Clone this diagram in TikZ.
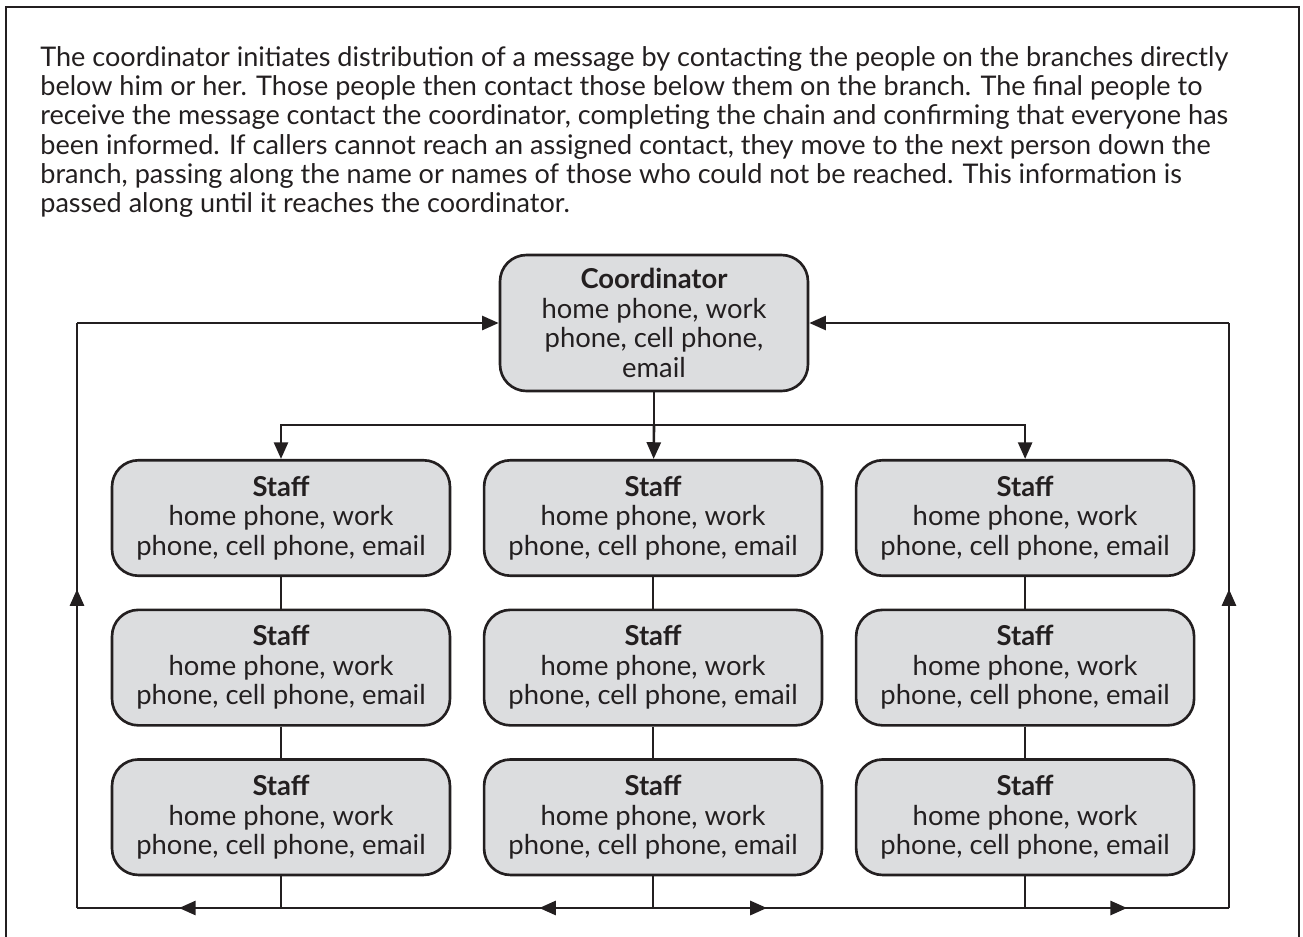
\documentclass[tikz,border=0pt]{standalone}
\usepackage{fontspec}
\setmainfont{Lato}
\usetikzlibrary{arrows.meta, positioning, decorations.markings}

\definecolor{boxgray}{HTML}{DCDDDF}
\definecolor{inkblack}{HTML}{231F20}

\tikzset{
    person/.style={draw=inkblack, line width=1.5pt, fill=boxgray, rounded corners=15pt,
          minimum width=6.76cm, minimum height=2.31cm, inner sep=0pt, align=center,
          text=inkblack, font=\fontsize{15.6}{16.8}\selectfont},
    link/.style={draw=inkblack, line width=1.5pt},
    tip/.style={-{Triangle[length=9.5pt, width=8pt]}},
    midtip/.style={postaction=decorate, decoration={markings,
          mark=at position #1 with {\arrow{Triangle[length=9.5pt, width=8pt]}}}},
}

\newcommand{\staffinfo}{\textbf{Staff}\\home phone, work\\phone, cell phone, email}

\begin{document}
\begin{tikzpicture}[x=0.02cm, y=-0.02cm]
    \useasboundingbox (0,0) rectangle (1303,937);

    % outer frame, open at the bottom
    \draw[inkblack, line width=1.2pt] (6,937) -- (6,7) -- (1299,7) -- (1299,937);

    % intro text
    \node[anchor=north west, align=left, inner sep=0pt, text=inkblack,
          font=\fontsize{15.4}{16.7}\selectfont] (intro) at (40,46) {
        The coordinator initiates distribution of a message by contacting the people on the branches directly\\
        below him or her. Those people then contact those below them on the branch. The final people to\\
        receive the message contact the coordinator, completing the chain and confirming that everyone has\\
        been informed. If callers cannot reach an assigned contact, they move to the next person down the\\
        branch, passing along the name or names of those who could not be reached. This information is\\
        passed along until it reaches the coordinator.
    };

    % coordinator box
    \node[person, minimum width=6.16cm, minimum height=2.72cm] (coord) at (654,323) {
        \textbf{Coordinator}\\home phone, work\\phone, cell phone,\\email
    };

    % staff boxes
    \node[person] (s11) at (281,518) {\staffinfo};
    \node[person, right=0.63cm of s11] (s12) {\staffinfo};
    \node[person, right=0.63cm of s12] (s13) {\staffinfo};
    \node[person, below=0.63cm of s11] (s21) {\staffinfo};
    \node[person, below=0.63cm of s12] (s22) {\staffinfo};
    \node[person, below=0.63cm of s13] (s23) {\staffinfo};
    \node[person, below=0.63cm of s21] (s31) {\staffinfo};
    \node[person, below=0.63cm of s22] (s32) {\staffinfo};
    \node[person, below=0.63cm of s23] (s33) {\staffinfo};

    % return corners
    \coordinate (bus) at (654,425);
    \coordinate (bl) at (77,908);
    \coordinate (br) at (1229,908);

    % coordinator down to the branches
    \draw[link] (coord) -- (bus);
    \draw[link, tip] (bus) -| (s11);
    \draw[link, tip] (bus) -- (s12);
    \draw[link, tip] (bus) -| (s13);

    % along each branch
    \foreach \c in {1,2,3} {
        \draw[link] (s1\c) -- (s2\c);
        \draw[link] (s2\c) -- (s3\c);
        \draw[link] (s3\c.south) -- (s3\c.south |- bl);
    }

    % back to the coordinator
    \draw[link, midtip=0.5] (s31.south |- bl) -- (bl);
    \draw[link, midtip=0.306] (s32.south |- bl) -- (s31.south |- bl);
    \draw[link, midtip=0.306] (s32.south |- bl) -- (s33.south |- bl);
    \draw[link, midtip=0.5] (s33.south |- bl) -- (br);
    \draw[link, midtip=0.545] (bl) -- (bl |- coord.west);
    \draw[link, midtip=0.545] (br) -- (br |- coord.east);
    \draw[link, tip] (bl |- coord.west) -- (coord.west);
    \draw[link, tip] (br |- coord.east) -- (coord.east);
\end{tikzpicture}
\end{document}
